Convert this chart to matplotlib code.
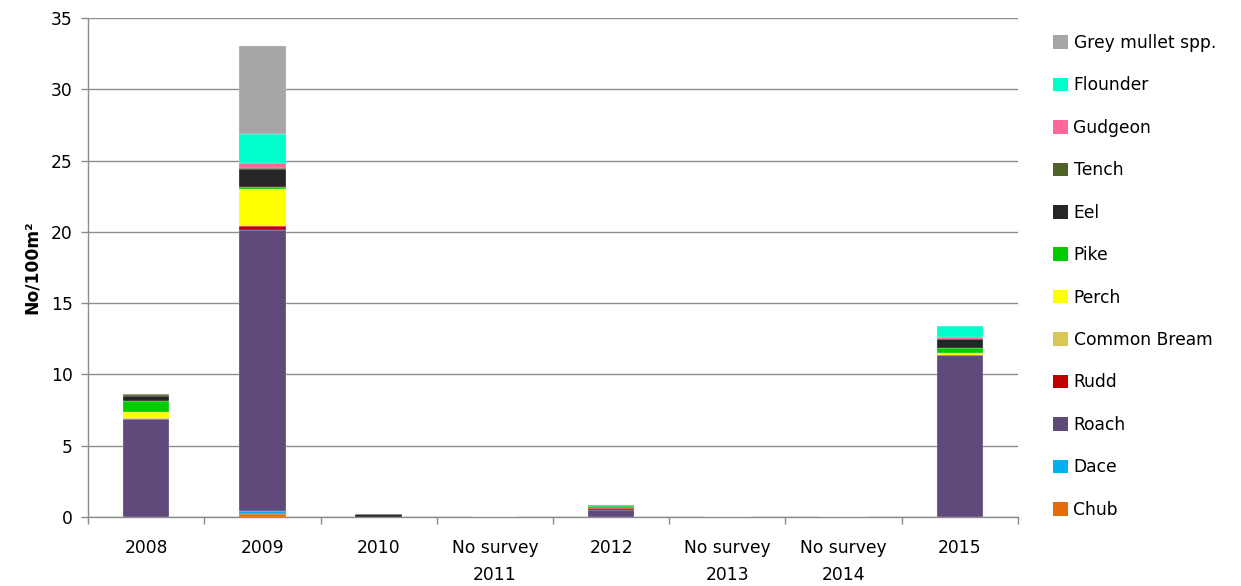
import matplotlib
matplotlib.use("Agg")
import matplotlib.pyplot as plt
from matplotlib.patches import Patch
import numpy as np

plt.rcParams['font.family'] = ['DejaVu Sans']

categories = ["2008", "2009", "2010", "No survey\n2011", "2012",
              "No survey\n2013", "No survey\n2014", "2015"]

species = ["Chub", "Dace", "Roach", "Rudd", "Common Bream", "Perch",
           "Pike", "Eel", "Tench", "Gudgeon", "Flounder", "Grey mullet spp."]

colors = ["#E46C0A", "#00B0F0", "#604A7B", "#C00000", "#D9C653", "#FFFF00",
          "#00CC00", "#262626", "#4F6228", "#FF6699", "#00FFCC", "#A6A6A6"]

# densities (No/100m²) per species, one value per category
chub        = [0.0,  0.20, 0.0,  0, 0.0,  0, 0, 0.0]
dace        = [0.0,  0.25, 0.0,  0, 0.0,  0, 0, 0.0]
roach       = [6.85, 19.70, 0.0, 0, 0.50, 0, 0, 11.35]
rudd        = [0.0,  0.25, 0.0,  0, 0.12, 0, 0, 0.0]
common_bream = [0.07, 0.0, 0.0,  0, 0.0,  0, 0, 0.02]
perch       = [0.45, 2.60, 0.0,  0, 0.0,  0, 0, 0.15]
pike        = [0.75, 0.14, 0.0,  0, 0.12, 0, 0, 0.35]
eel         = [0.35, 1.25, 0.18, 0, 0.0,  0, 0, 0.65]
tench       = [0.13, 0.10, 0.0,  0, 0.10, 0, 0, 0.0]
gudgeon     = [0.0,  0.37, 0.0,  0, 0.0,  0, 0, 0.10]
flounder    = [0.0,  1.97, 0.0,  0, 0.0,  0, 0, 0.75]
grey_mullet = [0.0,  6.20, 0.0,  0, 0.0,  0, 0, 0.0]

series = [chub, dace, roach, rudd, common_bream, perch, pike, eel,
          tench, gudgeon, flounder, grey_mullet]

fig = plt.figure(figsize=(12.41, 5.86), dpi=100)
ax = fig.add_axes([88 / 1241, 69 / 586, 930 / 1241, 499 / 586])

x = np.arange(len(categories))
bottom = np.zeros(len(categories))
for vals, col in zip(series, colors):
    vals = np.array(vals, dtype=float)
    ax.bar(x, vals, width=0.4, bottom=bottom, color=col,
           edgecolor="#F2F2F2", linewidth=0.2, zorder=3)
    bottom += vals

grid_col = "#8C8C8C"
fs = 12.3
ax.set_xlim(-0.5, len(categories) - 0.5)
ax.set_ylim(0, 35)
ax.set_yticks(np.arange(0, 36, 5))
ax.yaxis.grid(True, color=grid_col, linewidth=1.0, zorder=0)
ax.set_axisbelow(True)

ax.set_xticks(x)
ax.set_xticklabels(categories, linespacing=1.6)
ax.set_xticks(np.arange(-0.5, len(categories), 1.0), minor=True)
ax.tick_params(axis="x", which="major", length=0, pad=16, labelsize=fs,
               labelcolor="#000000")
ax.tick_params(axis="x", which="minor", length=5, color=grid_col, width=1)
ax.tick_params(axis="y", length=5, color=grid_col, width=1, labelsize=fs,
               pad=6, labelcolor="#000000")

for side in ("top", "right"):
    ax.spines[side].set_visible(False)
for side in ("left", "bottom"):
    ax.spines[side].set_color(grid_col)
    ax.spines[side].set_linewidth(1.0)

ax.set_ylabel("No/100m²", fontsize=fs, fontweight="bold", labelpad=7)

handles = [Patch(facecolor=c, edgecolor="none", label=s)
           for s, c in zip(species, colors)][::-1]
fig.legend(handles=handles, loc="upper left",
           bbox_to_anchor=(1053 / 1241, 1 - 34 / 586),
           frameon=False, fontsize=fs, handlelength=0.85, handleheight=0.85,
           handletextpad=0.35, labelspacing=1.43, borderaxespad=0,
           borderpad=0)

fig.savefig("out.png", dpi=100)
